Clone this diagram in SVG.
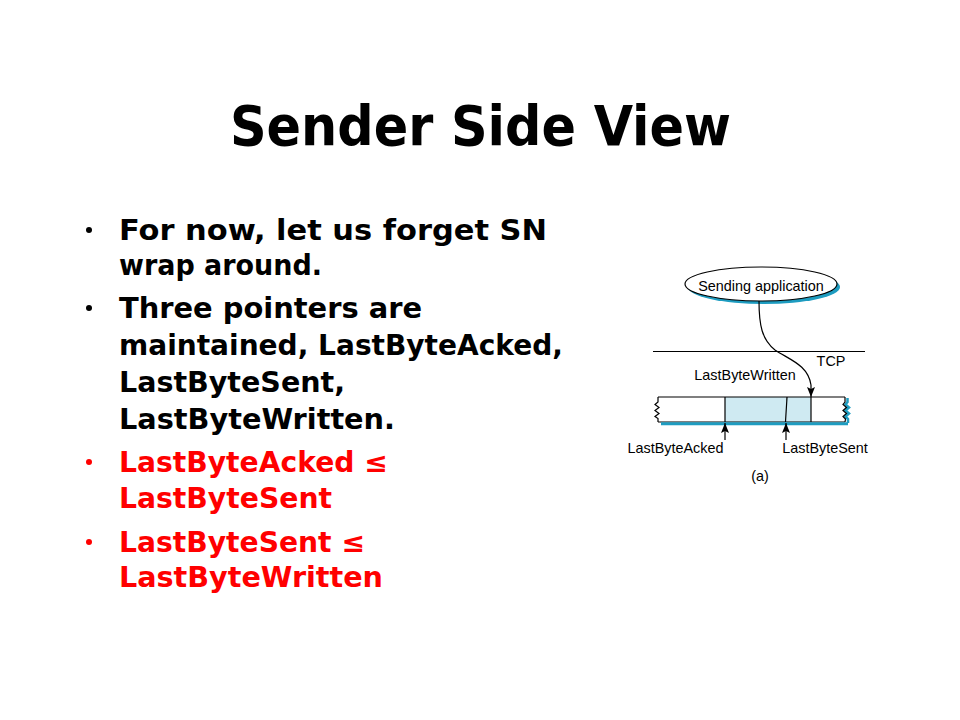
<svg xmlns="http://www.w3.org/2000/svg" width="960" height="720" viewBox="0 0 960 720">
<style>
.title{font-family:"DejaVu Sans","Liberation Sans",sans-serif;font-weight:bold;font-size:56px;fill:#000}
.b{font-family:"DejaVu Sans","Liberation Sans",sans-serif;font-weight:bold;font-size:28px;fill:#000}
.r{fill:#ff0000}
.lbl{font-family:"Liberation Sans",Arial,sans-serif;font-size:14.4px;fill:#000}
.ln{stroke:#000;stroke-width:1.2;fill:none}
</style>
<defs>
<marker id="ah" markerWidth="10" markerHeight="8" refX="10" refY="4" orient="auto" markerUnits="userSpaceOnUse" viewBox="0 0 10 8">
<path d="M0,0 L10,4 L0,8 L2,4 Z" fill="#000"/>
</marker>
</defs>
<rect width="960" height="720" fill="#fff"/>
<text class="title" x="230" y="145" textLength="501" lengthAdjust="spacingAndGlyphs">Sender Side View</text>
<g id="bullets">
<circle cx="89" cy="230" r="3" fill="#000"/>
<text class="b" x="119" y="240" textLength="428" lengthAdjust="spacingAndGlyphs">For now, let us forget SN</text>
<text class="b" x="119" y="275" textLength="203" lengthAdjust="spacingAndGlyphs">wrap around.</text>
<circle cx="89" cy="308" r="3" fill="#000"/>
<text class="b" x="119" y="318" textLength="303" lengthAdjust="spacingAndGlyphs">Three pointers are</text>
<text class="b" x="119" y="355" textLength="444" lengthAdjust="spacingAndGlyphs">maintained, LastByteAcked,</text>
<text class="b" x="119" y="392" textLength="226" lengthAdjust="spacingAndGlyphs">LastByteSent,</text>
<text class="b" x="119" y="429" textLength="276" lengthAdjust="spacingAndGlyphs">LastByteWritten.</text>
<circle cx="89" cy="462" r="3" fill="#ff0000"/>
<text class="b r" x="119" y="472" textLength="269" lengthAdjust="spacingAndGlyphs">LastByteAcked ≤</text>
<text class="b r" x="119" y="508" textLength="213" lengthAdjust="spacingAndGlyphs">LastByteSent</text>
<circle cx="89" cy="542" r="3" fill="#ff0000"/>
<text class="b r" x="119" y="552" textLength="246" lengthAdjust="spacingAndGlyphs">LastByteSent ≤</text>
<text class="b r" x="119" y="587" textLength="264" lengthAdjust="spacingAndGlyphs">LastByteWritten</text>
</g>
<g id="app">
<ellipse cx="764" cy="287" rx="76" ry="17" fill="#1e9cc0"/>
<ellipse cx="761" cy="284" rx="76" ry="17" fill="#fff" stroke="#000" stroke-width="1.2"/>
<text class="lbl" x="761" y="291" text-anchor="middle">Sending application</text>
</g>
<g id="tcp">
<line x1="653" y1="351.5" x2="865" y2="351.5" class="ln"/>
<text class="lbl" x="831" y="366" text-anchor="middle">TCP</text>
</g>
<g id="buffer">
<rect x="725" y="397" width="86" height="25" fill="#cfeaf2"/>
<line x1="658" y1="397" x2="845" y2="397" class="ln"/>
<line x1="658" y1="422" x2="845" y2="422" class="ln"/>
<line x1="661" y1="423.8" x2="848" y2="423.8" stroke="#1e9cc0" stroke-width="3"/>
<polyline points="658,397 658,402 655,404.5 659,407.5 655,410.5 659,413.5 655,416.5 658,418.5 658,422" class="ln" stroke-width="1"/>
<polyline points="847.5,398 847.5,402 845.5,404.5 849,407.5 845.5,410.5 849,413.5 845.5,416.5 848,419 848,423" fill="none" stroke="#1e9cc0" stroke-width="2.5"/>
<polyline points="845,397 845,402 843,404.5 846.5,407.5 843,410.5 846.5,413.5 843,416.5 845.5,419 845,422" class="ln" stroke-width="1"/>
<line x1="725" y1="397" x2="725" y2="422" class="ln"/>
<line x1="787" y1="397" x2="785.5" y2="422" class="ln"/>
<line x1="811" y1="397" x2="811" y2="422" class="ln"/>
</g>
<g id="connectors">
<path d="M759,301 C759,325 762,340 775,350 C790,360 808,365 811,385 L811,397" class="ln" stroke-width="1" marker-end="url(#ah)"/>
<line x1="725" y1="440" x2="725" y2="423" class="ln" stroke-width="1" marker-end="url(#ah)"/>
<line x1="786" y1="440" x2="786" y2="423" class="ln" stroke-width="1" marker-end="url(#ah)"/>
</g>
<g id="labels">
<text class="lbl" x="745" y="380" text-anchor="middle">LastByteWritten</text>
<text class="lbl" x="675.5" y="453" text-anchor="middle">LastByteAcked</text>
<text class="lbl" x="825" y="453" text-anchor="middle">LastByteSent</text>
<text class="lbl" x="760" y="481" text-anchor="middle">(a)</text>
</g>
</svg>
